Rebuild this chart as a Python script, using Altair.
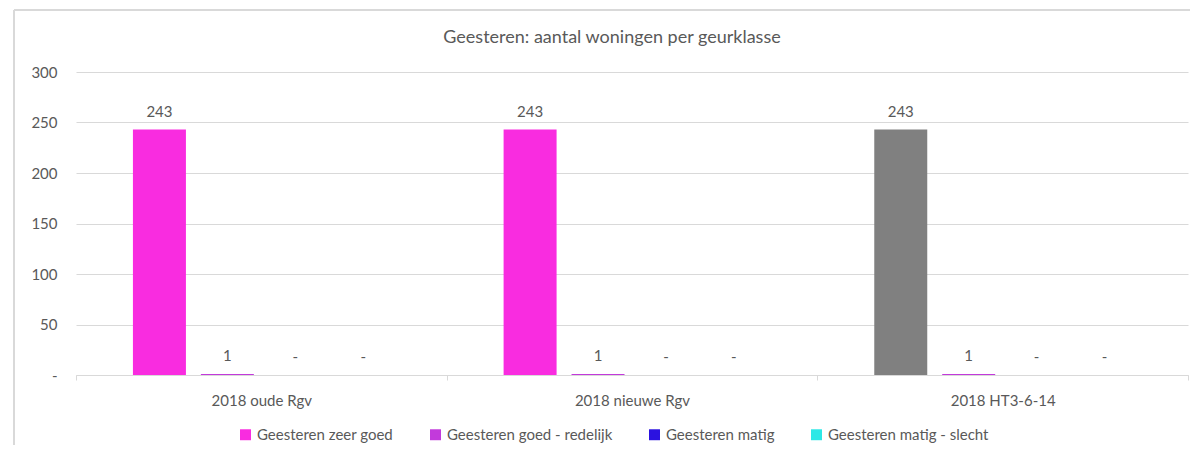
import altair as alt
import pandas as pd

categories = ["2018 oude Rgv", "2018 nieuwe Rgv", "2018 HT3-6-14"]
series = ["Geesteren zeer goed", "Geesteren goed - redelijk", "Geesteren matig", "Geesteren matig - slecht"]
values = {
    "2018 oude Rgv": [243, 1, 0, 0],
    "2018 nieuwe Rgv": [243, 1, 0, 0],
    "2018 HT3-6-14": [243, 1, 0, 0],
}
series_colors = ["#F92CE0", "#C23ADB", "#2B12E0", "#2DE8E6"]
highlight_point = ("2018 HT3-6-14", "Geesteren zeer goed")
highlight_color = "#808080"
chart_title = "Geesteren: aantal woningen per geurklasse"

rows = []
for c in categories:
    for s, v in zip(series, values[c]):
        key = "highlight" if (c, s) == highlight_point else s
        rows.append({"categorie": c, "reeks": s, "waarde": v,
                     "kleur": key, "label": "-" if v == 0 else str(v)})
df = pd.DataFrame(rows)

FONT = "Lato"
TXT = "#595959"
FS = 15

x = alt.X("categorie:N", sort=categories, title=None,
          scale=alt.Scale(paddingInner=0, paddingOuter=0),
          axis=alt.Axis(labelAngle=0, domainColor="#D9D9D9", tickColor="#D9D9D9",
                        tickBand="extent", tickSize=5, labelPadding=13,
                        labelFont=FONT, labelFontSize=FS, labelColor=TXT))
xo = alt.XOffset("reeks:N", sort=series,
                 scale=alt.Scale(paddingInner=0.22, paddingOuter=0.838))
y = alt.Y("waarde:Q", title=None,
          scale=alt.Scale(domain=[0, 300], nice=False),
          axis=alt.Axis(values=[0, 50, 100, 150, 200, 250, 300], domain=False, ticks=False,
                        gridColor="#D9D9D9", labelPadding=19, labelFont=FONT,
                        labelFontSize=FS, labelColor=TXT,
                        labelExpr="datum.value == 0 ? '-' : datum.label"))

color = alt.Color("kleur:N",
                  scale=alt.Scale(domain=series + ["highlight"], range=series_colors + [highlight_color]),
                  legend=alt.Legend(title=None, values=series, orient="none", direction="horizontal",
                                    columns=4, legendX=162, legendY=355, symbolType="square",
                                    symbolSize=120, symbolStrokeWidth=0, labelFont=FONT,
                                    labelFontSize=FS, labelColor=TXT, columnPadding=34,
                                    labelOffset=4, labelLimit=0))

bars = alt.Chart(df).mark_bar().encode(x=x, xOffset=xo, y=y, color=color)
labels = alt.Chart(df).mark_text(baseline="bottom", dy=-10, font=FONT, fontSize=FS, color=TXT).encode(
    x=x, xOffset=xo, y=y, text="label:N")

title_df = pd.DataFrame({"t": [chart_title]})
title = alt.Chart(title_df).mark_text(font=FONT, fontSize=18, color=TXT, baseline="middle").encode(
    x=alt.value(536), y=alt.value(-34), text="t:N")

frame_top = alt.Chart(df).mark_rule(color="#D9D9D9", strokeWidth=2).encode(
    x=alt.value(-62), x2=alt.value(1120), y=alt.value(-62))
frame_left = alt.Chart(df).mark_rule(color="#D9D9D9", strokeWidth=2).encode(
    x=alt.value(-62), y=alt.value(-62), y2=alt.value(390))

chart = alt.layer(frame_top, frame_left, title, bars, labels).properties(
    width=1112, height=303,
    autosize=alt.AutoSizeParams(type="none"),
    padding={"left": 68, "top": 64, "right": 2, "bottom": 70},
).configure_view(stroke=None)

chart.save("out.html", embed_options={"renderer": "svg", "actions": False})
